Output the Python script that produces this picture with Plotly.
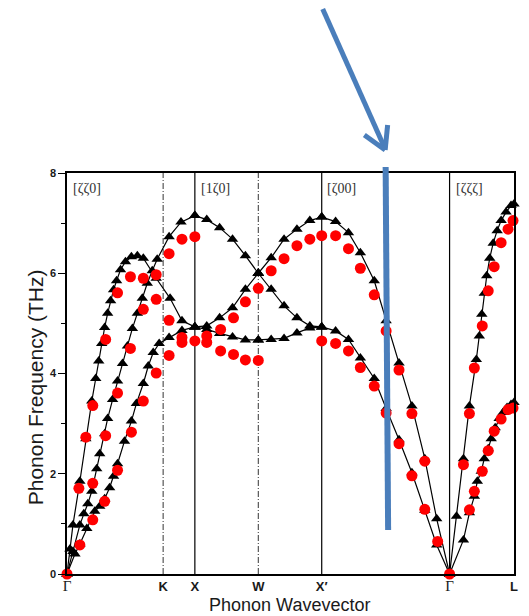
import plotly.graph_objects as go

# ---- symmetry points along the path (path coordinate) ----
sym_pos = [0.0, 0.97, 1.29, 1.93, 2.57, 3.86, 4.51]
sym_lbl = ["Γ", "K", "X", "W", "X′", "Γ", "L"]
solid_lines = [1.29, 2.57, 3.86]
dashdot_lines = [0.97, 1.93]
directions = ["[ζζ0]", "[1ζ0]", "[ζ00]", "[ζζζ]"]
dir_pos = [0.04, 1.33, 2.60, 3.90]

# ---- calculated branches (path coordinate, THz) ----
gkx_a_q = [0, 0.03, 0.06, 0.13, 0.19, 0.25, 0.29, 0.32, 0.35, 0.38, 0.41, 0.44, 0.47, 0.50, 0.54, 0.59, 0.65, 0.71, 0.77, 0.90, 1.04, 1.16, 1.29]
gkx_a_f = [0, 0.5, 0.98, 1.85, 2.7, 3.45, 3.9, 4.25, 4.6, 4.92, 5.2, 5.45, 5.67, 5.85, 6.07, 6.23, 6.33, 6.35, 6.30, 5.9, 5.5, 5.05, 4.93]
gkx_b_q = [0, 0.06, 0.13, 0.17, 0.21, 0.25, 0.30, 0.33, 0.38, 0.41, 0.46, 0.51, 0.56, 0.61, 0.66, 0.71, 0.76, 0.81, 0.86, 0.91, 1.03, 1.15, 1.29]
gkx_b_f = [0, 0.45, 0.98, 1.2, 1.4, 1.65, 2.1, 2.4, 2.8, 3.1, 3.48, 3.85, 4.2, 4.55, 4.9, 5.2, 5.5, 5.8, 6.05, 6.28, 6.73, 7.02, 7.15]
gkx_c_q = [0, 0.08, 0.13, 0.20, 0.28, 0.33, 0.38, 0.43, 0.47, 0.51, 0.58, 0.65, 0.70, 0.77, 0.82, 0.87, 0.93, 1.03, 1.16, 1.29]
gkx_c_f = [0, 0.4, 0.6, 0.91, 1.25, 1.35, 1.5, 1.72, 1.95, 2.2, 2.65, 3.05, 3.4, 3.8, 4.15, 4.42, 4.6, 4.72, 4.86, 4.93]

xw_q = [1.29, 1.41, 1.54, 1.67, 1.80, 1.93]
xw_up_f = [7.15, 7.07, 6.91, 6.68, 6.35, 6.0]
xw_mid_f = [4.93, 4.95, 5.11, 5.31, 5.68, 6.0]
xw_low_f = [4.93, 4.88, 4.80, 4.73, 4.67, 4.67]

wx_q = [1.93, 2.06, 2.19, 2.32, 2.45, 2.57]
wx_up_f = [6.0, 6.31, 6.68, 6.88, 7.05, 7.12]
wx_mid_f = [6.0, 5.68, 5.35, 5.11, 4.95, 4.93]
wx_low_f = [4.67, 4.68, 4.70, 4.81, 4.91, 4.93]

xg_q = [2.57, 2.71, 2.84, 2.96, 3.10, 3.22, 3.35, 3.48, 3.61, 3.73, 3.86]
xg_la_f = [7.12, 7.03, 6.81, 6.41, 5.85, 5.05, 4.21, 3.35, 2.3, 1.1, 0]
xg_ta_f = [4.93, 4.85, 4.68, 4.31, 3.9, 3.3, 2.68, 2.02, 1.27, 0.58, 0]

gl_la_q = [3.86, 3.93, 4.00, 4.06, 4.13, 4.16, 4.185, 4.21, 4.235, 4.265, 4.30, 4.34, 4.38, 4.43, 4.48, 4.51]
gl_la_f = [0, 1.15, 2.3, 3.35, 4.28, 4.75, 5.18, 5.6, 5.95, 6.3, 6.6, 6.85, 7.05, 7.22, 7.35, 7.38]
gl_ta_q = [3.86, 4.00, 4.06, 4.11, 4.14, 4.18, 4.21, 4.25, 4.28, 4.32, 4.36, 4.40, 4.44, 4.48, 4.51]
gl_ta_f = [0, 0.68, 1.22, 1.55, 1.85, 2.05, 2.3, 2.5, 2.7, 2.92, 3.1, 3.22, 3.32, 3.38, 3.42]

# ---- experimental points ----
exp_a_q = [0, 0.12, 0.19, 0.26, 0.39, 0.51, 0.64, 0.77, 0.90, 1.03, 1.16, 1.29]
exp_a_f = [0, 1.71, 2.73, 3.36, 4.68, 5.61, 5.93, 5.9, 5.48, 5.06, 4.72, 4.65]
exp_b_q = [0.26, 0.39, 0.51, 0.64, 0.77, 0.90, 1.03, 1.16, 1.29]
exp_b_f = [1.81, 2.76, 3.61, 4.5, 5.28, 5.97, 6.39, 6.68, 6.73]
exp_c_q = [0.13, 0.26, 0.38, 0.51, 0.65, 0.77, 0.90, 1.03, 1.16]
exp_c_f = [0.58, 1.08, 1.45, 2.07, 2.83, 3.45, 4.01, 4.36, 4.62]
exp_mid_q = [1.41, 1.55, 1.68, 1.80, 1.93, 2.06, 2.19, 2.32, 2.45, 2.57]
exp_mid_f = [4.75, 4.88, 5.11, 5.43, 5.7, 6.05, 6.29, 6.55, 6.68, 6.75]
exp_low_q = [1.41, 1.55, 1.68, 1.80, 1.93, 2.57]
exp_low_f = [4.62, 4.45, 4.38, 4.27, 4.26, 4.65]
exp_xg_la_q = [2.71, 2.84, 2.96, 3.10, 3.22, 3.35, 3.48, 3.61]
exp_xg_la_f = [6.75, 6.49, 6.1, 5.57, 4.85, 4.07, 3.2, 2.25]
exp_xg_ta_q = [2.71, 2.84, 2.96, 3.10, 3.22, 3.35, 3.48, 3.61, 3.74, 3.86]
exp_xg_ta_f = [4.6, 4.45, 4.12, 3.75, 3.21, 2.6, 1.96, 1.29, 0.65, 0]
exp_gl_la_q = [4.00, 4.06, 4.11, 4.19, 4.25, 4.31, 4.38, 4.45, 4.50]
exp_gl_la_f = [2.18, 3.2, 4.11, 4.95, 5.65, 6.13, 6.61, 6.88, 7.05]
exp_gl_ta_q = [4.06, 4.11, 4.19, 4.25, 4.31, 4.38, 4.45, 4.50]
exp_gl_ta_f = [1.28, 1.65, 2.05, 2.46, 2.85, 3.09, 3.28, 3.31]

calc = [
    (gkx_a_q, gkx_a_f), (gkx_b_q, gkx_b_f), (gkx_c_q, gkx_c_f),
    (xw_q, xw_up_f), (xw_q, xw_mid_f), (xw_q, xw_low_f),
    (wx_q, wx_up_f), (wx_q, wx_mid_f), (wx_q, wx_low_f),
    (xg_q, xg_la_f), (xg_q, xg_ta_f),
    (gl_la_q, gl_la_f), (gl_ta_q, gl_ta_f),
]
expt = [
    (exp_a_q, exp_a_f), (exp_b_q, exp_b_f), (exp_c_q, exp_c_f),
    (exp_mid_q, exp_mid_f), (exp_low_q, exp_low_f),
    (exp_xg_la_q, exp_xg_la_f), (exp_xg_ta_q, exp_xg_ta_f),
    (exp_gl_la_q, exp_gl_la_f), (exp_gl_ta_q, exp_gl_ta_f),
]

W_PX, H_PX = 529, 616
L, R, T, B = 67, 11, 173, 42
PW, PH = W_PX - L - R, H_PX - T - B

def px(x):
    return (x - L) / PW

def py(y):
    return (H_PX - B - y) / PH

fig = go.Figure()

for q, f in calc:
    fig.add_trace(go.Scatter(
        x=q, y=f, mode="lines+markers",
        line=dict(color="black", width=1.2),
        marker=dict(symbol="triangle-up", size=10, color="black"),
        showlegend=False, cliponaxis=False, hoverinfo="skip"))

for q, f in expt:
    fig.add_trace(go.Scatter(
        x=q, y=f, mode="markers",
        marker=dict(symbol="circle", size=11, color="#ff0000", line=dict(width=0)),
        showlegend=False, cliponaxis=False, hoverinfo="skip"))

shapes = []
for xv in solid_lines:
    shapes.append(dict(type="line", xref="x", yref="paper", x0=xv, x1=xv, y0=0, y1=1,
                       line=dict(color="black", width=1.2), layer="below"))
for xv in dashdot_lines:
    shapes.append(dict(type="line", xref="x", yref="paper", x0=xv, x1=xv, y0=0, y1=1,
                       line=dict(color="#333333", width=1, dash="6px,2px,1px,2px"), layer="below"))

blue = "#4a7ebb"
# vertical marker bar
shapes.append(dict(type="line", xref="paper", yref="paper",
                   x0=px(388.5), y0=py(167), x1=px(391), y1=py(530),
                   line=dict(color=blue, width=6)))
# arrow shaft and head
shapes.append(dict(type="line", xref="paper", yref="paper",
                   x0=px(325), y0=py(9), x1=px(388), y1=py(149),
                   line=dict(color=blue, width=5)))
shapes.append(dict(type="line", xref="paper", yref="paper",
                   x0=px(388), y0=py(150), x1=px(367), y1=py(135),
                   line=dict(color=blue, width=5)))
shapes.append(dict(type="line", xref="paper", yref="paper",
                   x0=px(388), y0=py(150), x1=px(390.5), y1=py(125),
                   line=dict(color=blue, width=5)))

annotations = []
for xv, txt in zip(dir_pos, directions):
    annotations.append(dict(x=xv, y=py(188), xref="x", yref="paper", text=txt,
                            showarrow=False, xanchor="left", yanchor="middle",
                            font=dict(family="Liberation Serif", size=14, color="#333333")))
annotations.append(dict(x=px(35), y=py(387), xref="paper", yref="paper",
                        text="Phonon Frequency (THz)", textangle=-90, showarrow=False,
                        xanchor="center", yanchor="middle",
                        font=dict(family="Liberation Sans", size=21, color="#1a1a1a")))
annotations.append(dict(x=px(291), y=py(616), xref="paper", yref="paper",
                        text="Phonon Wavevector", showarrow=False, borderpad=0,
                        xanchor="center", yanchor="bottom",
                        font=dict(family="Liberation Sans", size=18, color="#1a1a1a")))

ticktext = []
for t in sym_lbl:
    if t == "Γ":
        ticktext.append("<span style='font-family:Liberation Serif;font-weight:normal;font-size:15px'>Γ</span>")
    else:
        ticktext.append("<b>" + t + "</b>")

fig.update_layout(
    width=W_PX, height=H_PX,
    margin=dict(l=L, r=R, t=T, b=B, pad=0),
    paper_bgcolor="white", plot_bgcolor="white",
    shapes=shapes, annotations=annotations,
    xaxis=dict(range=[0, 4.51], tickvals=sym_pos, ticktext=ticktext,
               showgrid=False, zeroline=False, showline=True, linecolor="black",
               linewidth=1.5, mirror=True, ticks="", ticklabelstandoff=0,
               tickfont=dict(family="Liberation Sans", size=13, color="#1a1a1a")),
    yaxis=dict(range=[0, 8], tickvals=[0, 2, 4, 6, 8],
               ticktext=["<b>0</b>", "<b>2</b>", "<b>4</b>", "<b>6</b>", "<b>8</b>"],
               showgrid=False, zeroline=False, showline=True, linecolor="black",
               linewidth=1.5, mirror=True, ticks="outside", ticklen=7, tickwidth=1.2,
               tickcolor="black",
               minor=dict(tickvals=[1, 3, 5, 7], ticks="outside", ticklen=4, tickcolor="black"),
               tickfont=dict(family="Liberation Sans", size=11, color="#1a1a1a")),
)

fig.write_html("out.html")
